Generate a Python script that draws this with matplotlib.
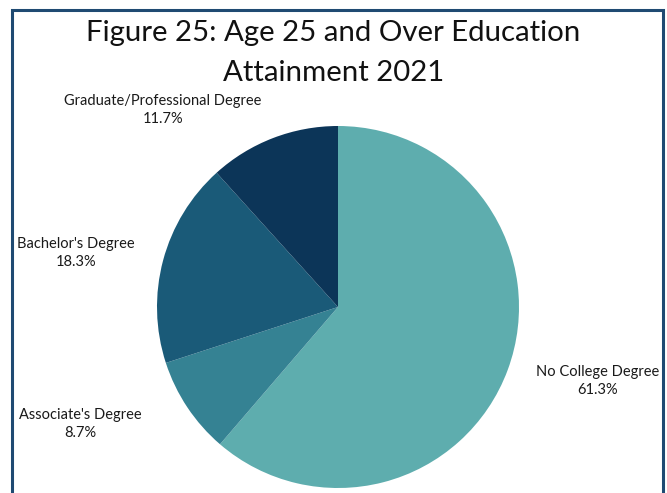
import matplotlib
matplotlib.use("Agg")
import matplotlib.pyplot as plt
from matplotlib.patches import Rectangle

categories = ["No College Degree", "Associate's Degree", "Bachelor's Degree",
              "Graduate/Professional Degree"]
shares = [61.3, 8.7, 18.3, 11.7]
colors = ["#5eadae", "#358293", "#1a5a78", "#0c3558"]

# label anchor positions (pixels from top-left of the figure)
label_xy = [(598, 381), (80, 424), (76, 253), (163, 110)]

W, H = 667, 493
fig = plt.figure(figsize=(W / 100, H / 100), dpi=100)
plt.rcParams["font.family"] = ["Lato", "DejaVu Sans"]

# pie centred at (338, 307) px with a radius of 181 px
cx, cy, r = 338, 307, 181
ax = fig.add_axes([(cx - r) / W, 1 - (cy + r) / H, 2 * r / W, 2 * r / H])
ax.pie(shares, colors=colors, startangle=90, counterclock=False,
       wedgeprops=dict(linewidth=0))
ax.set_xlim(-1, 1)
ax.set_ylim(-1, 1)
ax.set_aspect("equal")
ax.axis("off")

for name, val, (px, py) in zip(categories, shares, label_xy):
    fig.text(px / W, 1 - py / H, f"{name}\n{val:.1f}%", ha="center", va="center",
             fontsize=10.5, color="#1a1a1a", linespacing=1.45)

fig.text(0.5, 1 - 33 / H, "Figure 25: Age 25 and Over Education", ha="center",
         va="center", fontsize=21.2, color="#111111")
fig.text(0.5, 1 - 73 / H, "Attainment 2021", ha="center", va="center",
         fontsize=21.2, color="#111111")

# outer frame (bottom edge falls outside the canvas)
fig.patches.append(Rectangle((12 / W, -0.05), (663 - 12) / W, 1.05 - 10 / H,
                             transform=fig.transFigure, fill=False,
                             edgecolor="#1f4a72", linewidth=2.2))

fig.savefig("out.png", dpi=100)
